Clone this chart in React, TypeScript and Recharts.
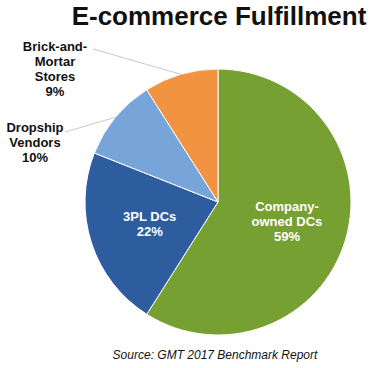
import { PieChart, Pie, Cell } from 'recharts';

const categories = ['Company-owned DCs', '3PL DCs', 'Dropship Vendors', 'Brick-and-Mortar Stores'];
const shares = [59, 22, 10, 9];
const colors = ['#77A033', '#2D5C9F', '#77A5D9', '#F29341'];
const labelLines = [['Company-', 'owned DCs'], ['3PL DCs'], ['Dropship', 'Vendors'], ['Brick-and-', 'Mortar', 'Stores']];

const data = categories.map((name, i) => ({ name, value: shares[i] }));

const RAD = Math.PI / 180;

// outside labels: where the leader line ends and where the text block is centred
const outside: Record<number, { lineEnd: [number, number]; text: [number, number] }> = {
  2: { lineEnd: [-153, -70], text: [-183, -59] },
  3: { lineEnd: [-125, -153], text: [-163, -133] },
};

function renderLabel(props: any) {
  const { cx, cy, midAngle, outerRadius, index, value } = props;
  const lines = [...labelLines[index], `${value}%`];
  const cos = Math.cos(-midAngle * RAD);
  const sin = Math.sin(-midAngle * RAD);
  const lh = 15;
  const o = outside[index];
  if (!o) {
    const r = outerRadius * 0.54;
    const x = cx + r * cos;
    const y = cy + r * sin;
    const top = y - ((lines.length - 1) * lh) / 2;
    return (
      <text x={x} y={top} textAnchor="middle" fill="#fff" fontSize={13} fontWeight="bold" fontFamily="Arial, 'Liberation Sans', sans-serif">
        {lines.map((l, i) => (
          <tspan key={i} x={x} y={top + i * lh} dy={4}>{l}</tspan>
        ))}
      </text>
    );
  }
  const sx = cx + outerRadius * cos;
  const sy = cy + outerRadius * sin;
  const ex = cx + o.lineEnd[0];
  const ey = cy + o.lineEnd[1];
  const tx = cx + o.text[0];
  const top = cy + o.text[1] - ((lines.length - 1) * lh) / 2;
  return (
    <g>
      <polyline points={`${sx},${sy} ${ex},${ey}`} stroke="#c9c9c9" strokeWidth={1} fill="none" />
      <text x={tx} y={top} textAnchor="middle" fill="#111" fontSize={13} fontWeight="bold" fontFamily="Arial, 'Liberation Sans', sans-serif">
        {lines.map((l, i) => (
          <tspan key={i} x={tx} y={top + i * lh} dy={4}>{l}</tspan>
        ))}
      </text>
    </g>
  );
}

export default function App() {
  return (
    <div style={{ position: 'absolute', left: 0, top: 0, width: 387, height: 368, background: '#fff' }}>
      <PieChart width={387} height={368} margin={{ top: 0, right: 0, bottom: 0, left: 0 }}>
        <text x={219} y={25} textAnchor="middle" fontSize={26} fontWeight="bold" fill="#111" fontFamily="Arial, 'Liberation Sans', sans-serif">
          E-commerce Fulfillment
        </text>
        <Pie
          data={data}
          dataKey="value"
          nameKey="name"
          cx={218}
          cy={202}
          outerRadius={133}
          startAngle={90}
          endAngle={-270}
          stroke="#fff"
          strokeWidth={1}
          label={renderLabel}
          labelLine={false}
          isAnimationActive={false}
        >
          {data.map((d, i) => (
            <Cell key={d.name} fill={colors[i]} />
          ))}
        </Pie>
        <text x={215} y={359} textAnchor="middle" fontSize={12} fontStyle="italic" fill="#111" fontFamily="Arial, 'Liberation Sans', sans-serif">
          Source: GMT 2017 Benchmark Report
        </text>
      </PieChart>
    </div>
  );
}
